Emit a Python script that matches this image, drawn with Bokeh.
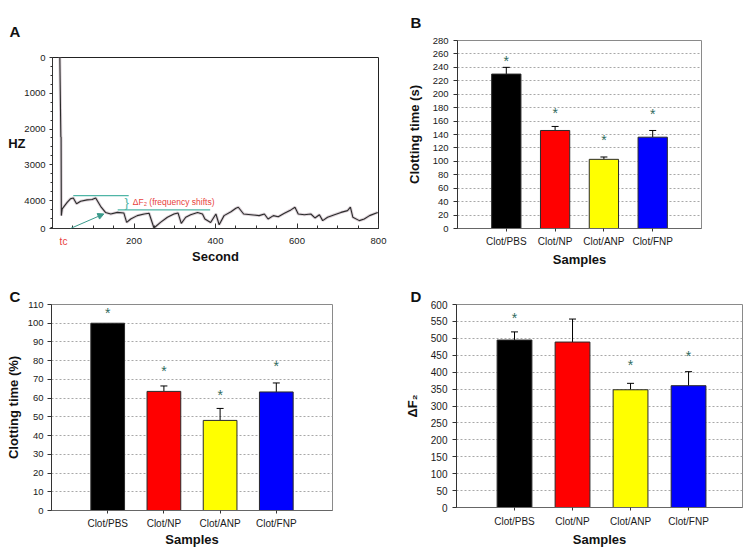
from bokeh.plotting import figure
from bokeh.models import (Range1d, FixedTicker, Arrow, NormalHead, Whisker, TeeHead,
                          ColumnDataSource, LinearAxis, Plot)
from bokeh.layouts import column, row
from bokeh.embed import file_html
from bokeh.resources import INLINE
from bokeh.core.properties import value

FONT = "Liberation Sans"

# ---------------- data ----------------
# Panel A: QCM frequency trace (seconds, Hz)
trace_sec = [18, 20.5, 21.1, 21.7, 23.8, 36, 44, 51, 59, 69, 85, 97, 106, 118, 130,
             143, 159, 175, 182, 192, 208, 225, 237, 249, 265, 282, 298, 308, 316, 327,
             339, 356, 368, 374, 388, 401, 409, 421, 438, 450, 456, 469, 487, 507, 520,
             529, 542, 554, 569, 585, 595, 603, 618, 634, 644, 655, 663, 675, 692, 708,
             724, 731, 737, 753, 765, 778, 798]
trace_hz = [0, 2220, 2220, 4420, 4230, 4050, 3950, 3925, 4090, 4020, 3980, 3970, 3925, 4160, 4330,
            4375, 4330, 4345, 4610, 4515, 4420, 4375, 4355, 4765, 4610, 4465, 4375, 4345, 4635, 4465,
            4395, 4335, 4375, 4515, 4610, 4375, 4675, 4420, 4310, 4215, 4185, 4375, 4395, 4420, 4375,
            4515, 4420, 4450, 4355, 4260, 4185, 4375, 4395, 4375, 4485, 4395, 4560, 4465, 4395, 4330,
            4280, 4185, 4465, 4560, 4515, 4420, 4330]
shift_levels = [3860, 4262]
shift_start = [51, 160]
shift_end = [187, 387]
tc_time = 27
tc_arrow_from = (44, 4780)
tc_arrow_to = (126, 4373)

categories = ["Clot/PBS", "Clot/NP", "Clot/ANP", "Clot/FNP"]
bar_colors = ["#000000", "#ff0000", "#ffff00", "#0000ff"]

clot_time_s = [230, 146, 103, 136]
clot_time_s_err = [10, 6, 3.5, 10]
clot_time_s_star = [250, 172, 132, 171]

clot_time_pct = [100, 63.6, 48.1, 63.3]
clot_time_pct_err = [0, 2.9, 6.4, 4.8]
clot_time_pct_star = [105.3, 74.3, 61.7, 77.4]

delta_f2 = [495, 489, 348, 360]
delta_f2_err = [24, 68, 19, 41.5]
delta_f2_star = [560, None, 420, 449]

TEAL = "#4fb5a6"
TEAL_DARK = "#3a9a8b"
RED = "#e8413c"
STAR = "#2f6b5e"

HAS_FA = "frame_align" in Plot.properties()


def make_fig(w, h, borders, xr, yr):
    bl, br, bt, bb = borders
    kw = dict(x_range=Range1d(*xr), y_range=Range1d(*yr), output_backend="svg",
              toolbar_location=None, min_border_left=bl, min_border_right=br,
              min_border_top=bt, min_border_bottom=bb)
    if HAS_FA:
        kw.update(width=w, height=h, frame_align=False)
    else:
        kw.update(frame_width=w - bl - br, frame_height=h - bt - bb)
    p = figure(**kw)
    p.background_fill_color = "white"
    p.border_fill_color = "white"
    return p


def style_axis(ax, size="9.5px"):
    ax.major_label_text_font = FONT
    ax.major_label_text_font_size = size
    ax.major_label_text_color = "#1a1a1a"
    ax.axis_label_text_font = FONT
    ax.axis_label_text_font_style = "bold"
    ax.axis_label_text_font_size = "13px"
    ax.axis_label_text_color = "#111111"
    ax.axis_line_color = "#333333"
    ax.major_tick_line_color = "#333333"
    ax.minor_tick_line_color = "#333333"


def label_axis(ax):
    ax.axis_line_color = None
    ax.major_tick_line_color = None
    ax.minor_tick_line_color = None
    ax.major_tick_out = 0
    ax.major_tick_in = 0


def panel_letter(p, letter, offset, standoff):
    t = p.title
    t.text = letter
    t.align = "left"
    t.offset = offset
    t.standoff = standoff
    t.text_font = FONT
    t.text_font_size = "15px"
    t.text_font_style = "bold"
    t.text_color = "#111111"


# ---------------- Panel A ----------------
A_xr = (0, 800)
A_yr = (4780, 0)
pA = make_fig(390, 283, (52, 12, 57, 55), A_xr, A_yr)
pA.grid.visible = False
pA.outline_line_color = "#222222"

pA.line(trace_sec, trace_hz, line_color="#cdbfc8", line_width=3.0, line_alpha=0.7)
pA.line(trace_sec, trace_hz, line_color="#2b2b2b", line_width=1.1)
pA.segment(x0=shift_start, y0=shift_levels, x1=shift_end, y1=shift_levels,
           line_color=TEAL, line_width=1.2)
pA.text(x=[182], y=[sum(shift_levels) / 2], text=value("}"), text_font=value(FONT),
        text_font_size="13px", text_color=TEAL, text_align="center", text_baseline="middle")
pA.text(x=[197], y=[4040], text=value("ΔF₂ (frequency shifts)"), text_font=value(FONT),
        text_font_size="8.5px", text_color=RED, text_align="left", text_baseline="middle")
pA.add_layout(Arrow(end=NormalHead(size=6, fill_color=TEAL_DARK, line_color=TEAL_DARK),
                    x_start=tc_arrow_from[0], y_start=tc_arrow_from[1],
                    x_end=tc_arrow_to[0], y_end=tc_arrow_to[1],
                    line_color=TEAL_DARK, line_width=1))

style_axis(pA.xaxis[0])
style_axis(pA.yaxis[0])
pA.xaxis.ticker = FixedTicker(ticks=[200, 400, 600, 800], minor_ticks=list(range(0, 801, 50)))
pA.xaxis.major_tick_in = 5
pA.xaxis.major_tick_out = 0
pA.xaxis.minor_tick_in = 3
pA.xaxis.minor_tick_out = 0
pA.xaxis.major_label_standoff = 9
pA.xaxis.axis_label = "Second"
pA.xaxis.axis_label_standoff = 2
pA.yaxis.ticker = FixedTicker(ticks=[0, 1000, 2000, 3000, 4000, 4780],
                              minor_ticks=list(range(0, 4780, 250)))
pA.yaxis.major_label_overrides = {4780: "0"}
pA.yaxis.major_tick_out = 3
pA.yaxis.major_tick_in = 0
pA.yaxis.minor_tick_out = 2
pA.yaxis.minor_tick_in = 0
pA.yaxis.major_label_standoff = 4

# "HZ" (horizontal y title) as a label-only outer axis
hz_axis = LinearAxis(ticker=FixedTicker(ticks=[2400]), major_label_overrides={2400: "HZ"})
style_axis(hz_axis, "13px")
hz_axis.major_label_text_font_style = "bold"
hz_axis.major_label_text_color = "#111111"
label_axis(hz_axis)
hz_axis.major_label_standoff = -4
pA.add_layout(hz_axis, "left")

# red "tc" marker under the frame, as a label-only outer axis pulled up to the tick row
tc_axis = LinearAxis(ticker=FixedTicker(ticks=[tc_time]), major_label_overrides={tc_time: "tc"})
style_axis(tc_axis, "10px")
tc_axis.major_label_text_color = RED
label_axis(tc_axis)
tc_axis.major_label_standoff = -31
pA.add_layout(tc_axis, "below")

panel_letter(pA, "A", -43, 36)


# ---------------- bar panels ----------------
def bar_panel(w, h, borders, x_end, ymax, ystep, vals, errs, stars, ylabel,
              ylab_standoff, ytick_standoff, xlab_standoff, xaxis_lab_standoff, ytick_size,
              letter, letter_offset, letter_standoff):
    p = make_fig(w, h, borders, (0, x_end), (0, ymax))
    p.outline_line_color = "#8a8a8a"
    p.xgrid.visible = False
    p.ygrid.grid_line_color = "#a8a8a8"
    p.ygrid.grid_line_dash = "2 2"
    p.ygrid.grid_line_width = 1

    xs = [i + 1 for i in range(len(categories))]
    src = ColumnDataSource(dict(x=xs, top=vals, color=bar_colors))
    p.vbar(x="x", top="top", width=0.6, fill_color="color", line_color="#2a2a2a",
           line_width=1, source=src)

    ex = [x for x, e in zip(xs, errs) if e > 0]
    elo = [v for v, e in zip(vals, errs) if e > 0]
    ehi = [v + e for v, e in zip(vals, errs) if e > 0]
    wsrc = ColumnDataSource(dict(x=ex, lower=elo, upper=ehi))
    p.add_layout(Whisker(base="x", lower="lower", upper="upper", source=wsrc,
                         line_color="black", line_width=1,
                         upper_head=TeeHead(size=7, line_color="black", line_width=1),
                         lower_head=None))

    sx = [x for x, s in zip(xs, stars) if s is not None]
    sy = [s for s in stars if s is not None]
    p.text(x=sx, y=sy, text=value("*"), text_font=value(FONT), text_font_size="14px",
           text_color=STAR, text_align="center", text_baseline="middle")

    style_axis(p.xaxis[0], "10px")
    style_axis(p.yaxis[0], ytick_size)
    p.xaxis.ticker = FixedTicker(ticks=xs)
    p.xaxis.major_label_overrides = {x: c for x, c in zip(xs, categories)}
    p.xaxis.minor_tick_line_color = None
    p.xaxis.major_tick_out = 3
    p.xaxis.major_tick_in = 0
    p.xaxis.major_label_standoff = xlab_standoff
    p.xaxis.axis_label = "Samples"
    p.xaxis.axis_label_standoff = xaxis_lab_standoff
    p.xaxis.axis_line_color = "#666666"

    p.yaxis.ticker = FixedTicker(ticks=list(range(0, ymax + 1, ystep)))
    p.yaxis.minor_tick_line_color = None
    p.yaxis.major_tick_out = 4
    p.yaxis.major_tick_in = 0
    p.yaxis.major_label_standoff = ytick_standoff
    p.yaxis.axis_label = ylabel
    p.yaxis.axis_label_standoff = ylab_standoff

    panel_letter(p, letter, letter_offset, letter_standoff)
    return p


pB = bar_panel(356, 283, (67, 45, 40, 55), 5, 280, 20,
               clot_time_s, clot_time_s_err, clot_time_s_star, "Clotting time (s)",
               8, 5, 4, 2, "9.5px", "B", -47, 20)
pC = bar_panel(390, 270, (51, 58, 21, 43), 5, 110, 10,
               clot_time_pct, clot_time_pct_err, clot_time_pct_star, "Clotting time (%)",
               4, 4, 4, 0, "9.5px", "C", -42, 0)
pD = bar_panel(356, 270, (66, 4, 21, 46), 4.93, 600, 50,
               delta_f2, delta_f2_err, delta_f2_star, "ΔF₂",
               8, 5, 5, 2, "10px", "D", -46, 0)

layout = column(row(pA, pB), row(pC, pD))
open("out.html", "w").write(file_html(layout, INLINE))
